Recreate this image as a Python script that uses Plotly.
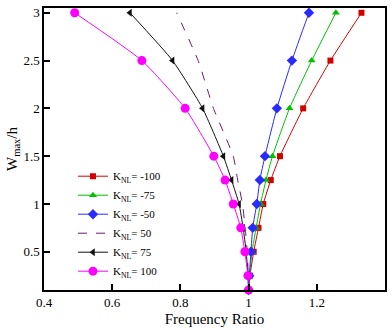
import plotly.graph_objects as go

y_vals = [0.1, 0.25, 0.5, 0.75, 1.0, 1.25, 1.5, 2.0, 2.5, 3.0]
x_m100 = [1.0, 1.004, 1.015, 1.029, 1.043, 1.065, 1.092, 1.160, 1.240, 1.331]
x_m75 = [1.0, 1.003, 1.010, 1.022, 1.035, 1.051, 1.070, 1.120, 1.185, 1.256]
x_m50 = [1.0, 1.002, 1.007, 1.012, 1.024, 1.033, 1.048, 1.083, 1.127, 1.177]
x_p50 = [1.0, 0.999, 0.996, 0.990, 0.982, 0.968, 0.955, 0.897, 0.852, 0.789]
x_p75 = [1.0, 0.998, 0.993, 0.984, 0.972, 0.950, 0.926, 0.865, 0.777, 0.652]
x_p100 = [1.0, 0.998, 0.989, 0.977, 0.955, 0.931, 0.898, 0.814, 0.687, 0.490]

labels = ["K<sub>NL</sub>= -100", "K<sub>NL</sub>= -75", "K<sub>NL</sub>= -50",
          "K<sub>NL</sub>= 50", "K<sub>NL</sub>= 75", "K<sub>NL</sub>= 100"]

series = [
    (x_m100, labels[0], "#d40000", "square", 6, "solid", True),
    (x_m75, labels[1], "#00c000", "triangle-up", 7, "solid", True),
    (x_m50, labels[2], "#2a2aff", "diamond", 8, "solid", True),
    (x_p50, labels[3], "#6a1a6a", None, 0, "dash", False),
    (x_p75, labels[4], "#111111", "triangle-left", 7, "solid", True),
    (x_p100, labels[5], "#ff00ff", "circle", 9, "solid", True),
]

fig = go.Figure()
for xs, name, color, sym, size, dash, has_m in series:
    fig.add_trace(go.Scatter(
        x=xs, y=y_vals, name=name,
        mode="lines+markers" if has_m else "lines",
        line=dict(color=color, width=1, dash=dash, shape="spline", smoothing=0.5),
        marker=dict(symbol=sym, size=size, color=color) if has_m else None,
        cliponaxis=False,
    ))

font_family = "Liberation Serif"
fig.update_layout(
    width=392, height=330,
    margin=dict(l=44, r=7, t=5, b=33),
    paper_bgcolor="white", plot_bgcolor="white",
    font=dict(family=font_family, size=13, color="black"),
    showlegend=True,
    legend=dict(x=0.085, y=0.455, xanchor="left", yanchor="top",
                bgcolor="rgba(0,0,0,0)", font=dict(size=11, family=font_family),
                tracegroupgap=0, itemwidth=30),
    xaxis=dict(range=[0.4, 1.4], tickvals=[0.4, 0.6, 0.8, 1.0, 1.2, 1.4],
               ticktext=["0.4", "0.6", "0.8", "1", "1.2", "1.4"],
               ticks="inside", ticklen=6, tickwidth=1.5, tickcolor="black",
               showline=True, linecolor="black", linewidth=1.5, mirror=True,
               showgrid=False, zeroline=False,
               title=dict(text="Frequency Ratio", font=dict(size=15), standoff=4)),
    yaxis=dict(range=[0.1, 3.05], tickvals=[0.5, 1, 1.5, 2, 2.5, 3],
               ticktext=["0.5", "1", "1.5", "2", "2.5", "3"],
               ticks="inside", ticklen=6, tickwidth=1.5, tickcolor="black",
               showline=True, linecolor="black", linewidth=1.5, mirror=True,
               showgrid=False, zeroline=False,
               title=dict(text="W<sub>max</sub>/h", font=dict(size=15), standoff=2)),
)

fig.write_html("out.html")
